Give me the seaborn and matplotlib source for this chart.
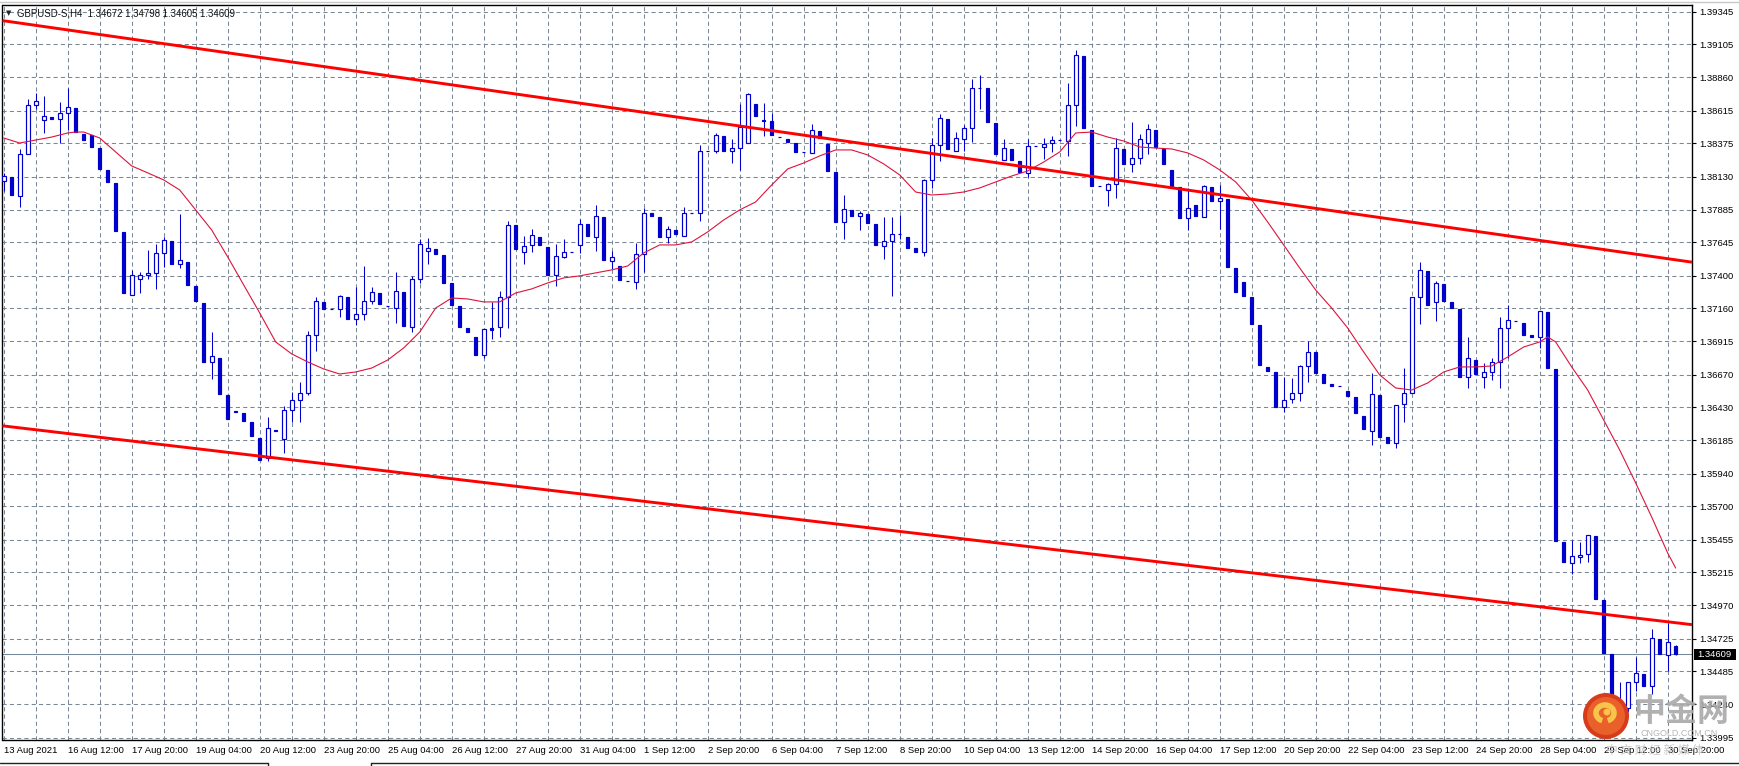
import numpy as np
import seaborn as sns
import matplotlib.pyplot as plt
from matplotlib.patches import Circle, Rectangle, Arc
from matplotlib.lines import Line2D
from matplotlib.transforms import blended_transform_factory

# GBPUSD-S H4 candles, bar 0 = 13 Aug 2021 04:00
opens = [
    1.38098, 1.38127, 1.37987, 1.38297, 1.38657, 1.38547, 1.38569, 1.38554, 1.38598, 1.38635,
    1.38443, 1.38436, 1.38340, 1.38179, 1.38083, 1.37722, 1.37257, 1.37375, 1.37405, 1.37420,
    1.37567, 1.37655, 1.37486, 1.37501, 1.37324, 1.37198, 1.36764, 1.36793, 1.36520, 1.36402,
    1.36387, 1.36321, 1.36203, 1.36056, 1.36265, 1.36196, 1.36409, 1.36483, 1.36535, 1.36963,
    1.37206, 1.37154, 1.37154, 1.37242, 1.37080, 1.37117, 1.37213, 1.37272, 1.37176, 1.37161,
    1.37279, 1.37021, 1.37375, 1.37582, 1.37597, 1.37552, 1.37346, 1.37176, 1.37014, 1.36948,
    1.36815, 1.37014, 1.37021, 1.37242, 1.37773, 1.37574, 1.37626, 1.37685, 1.37611, 1.37405,
    1.37538, 1.37574, 1.37626, 1.37781, 1.37685, 1.37832, 1.37508, 1.37471, 1.37361, 1.37353,
    1.37560, 1.37861, 1.37832, 1.37685, 1.37736, 1.37692, 1.37861, 1.37861, 1.38318, 1.38318,
    1.38429, 1.38318, 1.38340, 1.38377, 1.38665, 1.38547, 1.38539, 1.38421, 1.38407, 1.38377,
    1.38311, 1.38304, 1.38466, 1.38370, 1.38164, 1.37795, 1.37884, 1.37840, 1.37854, 1.37781,
    1.37619, 1.37655, 1.37707, 1.37685, 1.37604, 1.37574, 1.38105, 1.38363, 1.38554, 1.38318,
    1.38407, 1.38488, 1.38782, 1.38782, 1.38525, 1.38252, 1.38333, 1.38245, 1.38156, 1.38355,
    1.38348, 1.38377, 1.38399, 1.38392, 1.38657, 1.39018, 1.38473, 1.38060, 1.38031, 1.38075,
    1.38333, 1.38223, 1.38267, 1.38377, 1.38473, 1.38333, 1.38179, 1.38053, 1.37825, 1.37920,
    1.37832, 1.38053, 1.37950, 1.37965, 1.37456, 1.37353, 1.37242, 1.37036, 1.36727, 1.36690,
    1.36432, 1.36490, 1.36535, 1.36734, 1.36838, 1.36675, 1.36601, 1.36587, 1.36550, 1.36505,
    1.36365, 1.36255, 1.36520, 1.36210, 1.36166, 1.36454, 1.36535, 1.37242, 1.37434, 1.37206,
    1.37338, 1.37206, 1.37154, 1.36653, 1.36778, 1.36653, 1.36690, 1.36764, 1.37014, 1.37066,
    1.37051, 1.36963, 1.36948, 1.37132, 1.36712, 1.35437, 1.35282, 1.35326, 1.35348, 1.35481,
    1.35009, 1.34612, 1.34140, 1.34214, 1.34405, 1.34464, 1.34376, 1.34722, 1.34604, 1.34672,
]
highs = [
    1.38157, 1.38127, 1.38333, 1.38701, 1.38746, 1.38723, 1.38569, 1.38679, 1.38782, 1.38635,
    1.38443, 1.38436, 1.38340, 1.38179, 1.38083, 1.37722, 1.37442, 1.37427, 1.37589, 1.37633,
    1.37685, 1.37655, 1.37854, 1.37501, 1.37324, 1.37198, 1.36984, 1.36793, 1.36520, 1.36402,
    1.36387, 1.36321, 1.36203, 1.36358, 1.36265, 1.36439, 1.36542, 1.36616, 1.36992, 1.37242,
    1.37206, 1.37154, 1.37257, 1.37242, 1.37316, 1.37471, 1.37316, 1.37272, 1.37176, 1.37427,
    1.37279, 1.37398, 1.37670, 1.37677, 1.37597, 1.37552, 1.37346, 1.37176, 1.37014, 1.36948,
    1.37007, 1.37206, 1.37286, 1.37803, 1.37773, 1.37692, 1.37744, 1.37685, 1.37611, 1.37633,
    1.37670, 1.37574, 1.37818, 1.37781, 1.37920, 1.37832, 1.37582, 1.37471, 1.37361, 1.37640,
    1.37898, 1.37861, 1.37832, 1.37766, 1.37736, 1.37905, 1.37861, 1.38363, 1.38318, 1.38451,
    1.38429, 1.38407, 1.38665, 1.38746, 1.38665, 1.38672, 1.38598, 1.38421, 1.38407, 1.38377,
    1.38311, 1.38517, 1.38466, 1.38370, 1.38164, 1.37994, 1.37884, 1.37876, 1.37854, 1.37781,
    1.37832, 1.37832, 1.37847, 1.37685, 1.37604, 1.38112, 1.38414, 1.38591, 1.38554, 1.38458,
    1.38510, 1.38849, 1.38878, 1.38782, 1.38525, 1.38407, 1.38333, 1.38245, 1.38407, 1.38355,
    1.38414, 1.38429, 1.38399, 1.38819, 1.39063, 1.39018, 1.38473, 1.38060, 1.38083, 1.38414,
    1.38333, 1.38532, 1.38444, 1.38517, 1.38473, 1.38333, 1.38179, 1.38053, 1.38046, 1.37920,
    1.38068, 1.38053, 1.38068, 1.37965, 1.37456, 1.37353, 1.37242, 1.37036, 1.36727, 1.36690,
    1.36653, 1.36646, 1.36742, 1.36918, 1.36838, 1.36675, 1.36601, 1.36587, 1.36550, 1.36505,
    1.36365, 1.36682, 1.36520, 1.36210, 1.36446, 1.36719, 1.37242, 1.37501, 1.37434, 1.37361,
    1.37338, 1.37206, 1.37154, 1.36948, 1.36778, 1.36756, 1.36793, 1.37095, 1.37184, 1.37066,
    1.37051, 1.36963, 1.37139, 1.37132, 1.36712, 1.35437, 1.35451, 1.35437, 1.35488, 1.35481,
    1.35009, 1.34612, 1.34405, 1.34405, 1.34589, 1.34464, 1.34796, 1.34722, 1.34840, 1.34680,
]
lows = [
    1.38024, 1.37994, 1.37905, 1.38297, 1.38628, 1.38451, 1.38554, 1.38377, 1.38473, 1.38458,
    1.38399, 1.38348, 1.38186, 1.38090, 1.37729, 1.37272, 1.37257, 1.37272, 1.37375, 1.37302,
    1.37464, 1.37486, 1.37456, 1.37331, 1.37213, 1.36764, 1.36638, 1.36527, 1.36343, 1.36395,
    1.36328, 1.36218, 1.36041, 1.36034, 1.36258, 1.36093, 1.36321, 1.36321, 1.36520, 1.36845,
    1.37154, 1.37154, 1.37095, 1.37080, 1.37036, 1.37073, 1.37191, 1.37191, 1.37176, 1.37051,
    1.37029, 1.36984, 1.37346, 1.37486, 1.37560, 1.37346, 1.37184, 1.37021, 1.36984, 1.36815,
    1.36793, 1.36933, 1.36948, 1.37014, 1.37597, 1.37486, 1.37574, 1.37626, 1.37405, 1.37324,
    1.37530, 1.37574, 1.37567, 1.37692, 1.37582, 1.37515, 1.37449, 1.37368, 1.37361, 1.37302,
    1.37427, 1.37840, 1.37685, 1.37640, 1.37707, 1.37692, 1.37861, 1.37803, 1.38318, 1.38304,
    1.38318, 1.38230, 1.38179, 1.38377, 1.38576, 1.38429, 1.38436, 1.38421, 1.38385, 1.38311,
    1.38311, 1.38304, 1.38414, 1.38171, 1.37795, 1.37670, 1.37840, 1.37736, 1.37788, 1.37626,
    1.37523, 1.37250, 1.37670, 1.37604, 1.37574, 1.37545, 1.38046, 1.38245, 1.38333, 1.38318,
    1.38318, 1.38385, 1.38628, 1.38532, 1.38297, 1.38252, 1.38252, 1.38164, 1.38127, 1.38355,
    1.38259, 1.38311, 1.38399, 1.38282, 1.38502, 1.38488, 1.38060, 1.38060, 1.37913, 1.37972,
    1.38223, 1.38164, 1.38223, 1.38297, 1.38348, 1.38223, 1.38060, 1.37825, 1.37736, 1.37840,
    1.37832, 1.37950, 1.37744, 1.37464, 1.37279, 1.37250, 1.37044, 1.36742, 1.36697, 1.36432,
    1.36395, 1.36461, 1.36476, 1.36616, 1.36683, 1.36609, 1.36587, 1.36587, 1.36513, 1.36387,
    1.36270, 1.36152, 1.36210, 1.36166, 1.36130, 1.36321, 1.36535, 1.37044, 1.37184, 1.37066,
    1.37213, 1.37161, 1.36653, 1.36572, 1.36675, 1.36572, 1.36631, 1.36572, 1.36793, 1.37066,
    1.36963, 1.36948, 1.36867, 1.36719, 1.35444, 1.35290, 1.35201, 1.35282, 1.35290, 1.35017,
    1.34619, 1.34111, 1.34096, 1.34184, 1.34339, 1.34376, 1.34317, 1.34612, 1.34486, 1.34605,
]
closes = [
    1.38134, 1.37994, 1.38297, 1.38657, 1.38687, 1.38576, 1.38554, 1.38598, 1.38642, 1.38458,
    1.38399, 1.38348, 1.38186, 1.38090, 1.37729, 1.37272, 1.37405, 1.37405, 1.37420, 1.37567,
    1.37663, 1.37486, 1.37515, 1.37331, 1.37213, 1.36764, 1.36808, 1.36527, 1.36343, 1.36395,
    1.36328, 1.36218, 1.36041, 1.36277, 1.36258, 1.36409, 1.36483, 1.36535, 1.36963, 1.37213,
    1.37154, 1.37154, 1.37250, 1.37080, 1.37117, 1.37213, 1.37279, 1.37191, 1.37176, 1.37286,
    1.37029, 1.37375, 1.37633, 1.37604, 1.37560, 1.37346, 1.37184, 1.37021, 1.36984, 1.36815,
    1.37007, 1.36999, 1.37242, 1.37773, 1.37597, 1.37619, 1.37700, 1.37626, 1.37405, 1.37545,
    1.37574, 1.37574, 1.37781, 1.37692, 1.37840, 1.37515, 1.37538, 1.37368, 1.37361, 1.37560,
    1.37861, 1.37840, 1.37685, 1.37744, 1.37707, 1.37861, 1.37861, 1.38318, 1.38318, 1.38436,
    1.38318, 1.38340, 1.38495, 1.38738, 1.38576, 1.38539, 1.38436, 1.38421, 1.38385, 1.38311,
    1.38311, 1.38473, 1.38414, 1.38171, 1.37795, 1.37891, 1.37840, 1.37861, 1.37788, 1.37626,
    1.37655, 1.37707, 1.37707, 1.37604, 1.37574, 1.38105, 1.38363, 1.38561, 1.38333, 1.38414,
    1.38488, 1.38782, 1.38782, 1.38532, 1.38297, 1.38340, 1.38252, 1.38164, 1.38355, 1.38355,
    1.38370, 1.38399, 1.38399, 1.38657, 1.39026, 1.38488, 1.38060, 1.38060, 1.38075, 1.38340,
    1.38223, 1.38267, 1.38407, 1.38480, 1.38348, 1.38223, 1.38060, 1.37825, 1.37898, 1.37840,
    1.38060, 1.37950, 1.37972, 1.37464, 1.37279, 1.37250, 1.37044, 1.36742, 1.36697, 1.36432,
    1.36483, 1.36535, 1.36734, 1.36838, 1.36683, 1.36609, 1.36587, 1.36587, 1.36513, 1.36387,
    1.36270, 1.36527, 1.36210, 1.36166, 1.36446, 1.36535, 1.37242, 1.37442, 1.37184, 1.37346,
    1.37213, 1.37161, 1.36653, 1.36793, 1.36675, 1.36690, 1.36764, 1.37014, 1.37073, 1.37066,
    1.36963, 1.36948, 1.37139, 1.36719, 1.35444, 1.35290, 1.35334, 1.35341, 1.35488, 1.35017,
    1.34619, 1.34140, 1.34184, 1.34405, 1.34472, 1.34376, 1.34729, 1.34612, 1.34700, 1.34609,
]

# moving average line (crimson), read at selected bars
ma_bars = [0, 2, 4, 6, 8, 9, 10, 12, 14, 16, 18, 20, 22, 24, 26, 28, 30, 32, 34, 36,
           38, 40, 42, 44, 46, 48, 50, 52, 54, 56, 58, 60, 62, 64, 66, 68, 70, 72, 74, 76,
           78, 80, 82, 84, 86, 88, 90, 92, 94, 96, 98, 100, 102, 104, 106, 108, 110, 112, 114, 116,
           118, 120, 122, 124, 126, 128, 130, 132, 134, 136, 138, 140, 142, 144, 146, 148, 150, 152, 154, 156,
           158, 160, 162, 164, 166, 168, 170, 172, 174, 176, 178, 180, 182, 184, 186, 188, 190, 192, 193, 194,
           196, 198, 200, 202, 204, 206, 208, 209]
ma_vals = [1.38414, 1.38377, 1.38399, 1.38421, 1.38451, 1.38458, 1.38458, 1.38414, 1.38311, 1.38208,
           1.38157, 1.38105, 1.38031, 1.37884, 1.37736, 1.37538, 1.37331, 1.37125, 1.36911, 1.36823,
           1.36764, 1.36712, 1.36675, 1.36690, 1.36719, 1.36778, 1.36867, 1.36984, 1.37161, 1.37235,
           1.37228, 1.37206, 1.37206, 1.37272, 1.37302, 1.37346, 1.37383, 1.37398, 1.37420, 1.37442,
           1.37471, 1.37567, 1.37626, 1.37626, 1.37648, 1.37722, 1.37810, 1.37884, 1.37943, 1.38068,
           1.38186, 1.38230, 1.38282, 1.38326, 1.38326, 1.38289, 1.38223, 1.38142, 1.38016, 1.37994,
           1.38001, 1.38016, 1.38046, 1.38090, 1.38134, 1.38171, 1.38237, 1.38311, 1.38451, 1.38458,
           1.38421, 1.38392, 1.38348, 1.38340, 1.38333, 1.38304, 1.38252, 1.38179, 1.38090, 1.37957,
           1.37795, 1.37626, 1.37456, 1.37294, 1.37161, 1.37014, 1.36837, 1.36668, 1.36572, 1.36557,
           1.36609, 1.36690, 1.36727, 1.36727, 1.36734, 1.36800, 1.36874, 1.36911, 1.36948, 1.36911,
           1.36727, 1.36557, 1.36336, 1.36115, 1.35872, 1.35621, 1.35356, 1.35245]

# two red trend lines, end points (bar position, price)
trend_x = [-0.15, 211.04]
upper_line = [1.39279, 1.37499]
lower_line = [1.36293, 1.34828]

date_labels = ["13 Aug 2021", "16 Aug 12:00", "17 Aug 20:00", "19 Aug 04:00", "20 Aug 12:00",
               "23 Aug 20:00", "25 Aug 04:00", "26 Aug 12:00", "27 Aug 20:00", "31 Aug 04:00",
               "1 Sep 12:00", "2 Sep 20:00", "6 Sep 04:00", "7 Sep 12:00", "8 Sep 20:00",
               "10 Sep 04:00", "13 Sep 12:00", "14 Sep 20:00", "16 Sep 04:00", "17 Sep 12:00",
               "20 Sep 20:00", "22 Sep 04:00", "23 Sep 12:00", "24 Sep 20:00", "28 Sep 04:00",
               "29 Sep 12:00", "30 Sep 20:00"]
price_labels = ["1.39345", "1.39105", "1.38860", "1.38615", "1.38375", "1.38130", "1.37885",
                "1.37645", "1.37400", "1.37160", "1.36915", "1.36670", "1.36430", "1.36185",
                "1.35940", "1.35700", "1.35455", "1.35215", "1.34970", "1.34725", "1.34485",
                "1.34240", "1.33995"]
last_price = 1.34609
header = "GBPUSD-S,H4  1.34672 1.34798 1.34605 1.34609"

sns.set_style("white")
plt.rcParams['font.family'] = ['Liberation Sans', 'DejaVu Sans']

BLUE = '#0000cd'
W, H = 1740, 766
fig = plt.figure(figsize=(W / 100, H / 100), dpi=100)
ax = fig.add_axes([2.5 / W, 1 - 740 / H, (1692 - 2.5) / W, (740 - 5) / H])

x = np.arange(len(opens))
o, h, l, c = (np.array(v) for v in (opens, highs, lows, closes))
up = c > o

ax.vlines(x, l, h, color=BLUE, lw=0.75, zorder=3)
ax.bar(x[up], (c - o)[up], bottom=o[up], width=0.48, facecolor='white',
       edgecolor=BLUE, lw=0.85, zorder=4)
ax.bar(x[~up], (c - o)[~up], bottom=o[~up], width=0.3, facecolor=BLUE,
       edgecolor=BLUE, lw=0.85, zorder=4)

sns.lineplot(x=ma_bars, y=ma_vals, ax=ax, color='#dc143c', lw=0.8, zorder=5)
ax.plot(trend_x, upper_line, color='#ff0000', lw=2.1, zorder=6, solid_capstyle='butt')
ax.plot(trend_x, lower_line, color='#ff0000', lw=2.1, zorder=6, solid_capstyle='butt')

ax.axhline(last_price, color='#778899', lw=0.75, zorder=2)

ax.set_xlim(-0.15, 211.04)
ax.set_ylim(1.33978, 1.39394)

ax.set_xticks(np.arange(0, 8 * len(date_labels), 8))
ax.set_xticklabels(date_labels, ha='left')
ax.set_xticks(np.arange(4, 212, 8), minor=True)
ax.set_yticks([float(p) for p in price_labels])
ax.set_yticklabels(price_labels)
ax.yaxis.tick_right()

grid_kw = dict(color='#7a8896', lw=0.75, ls=(0, (4, 3)))
ax.grid(True, which='both', axis='x', **grid_kw)
ax.grid(True, which='major', axis='y', **grid_kw)
ax.set_axisbelow(True)
ax.tick_params(axis='x', which='major', length=3, width=0.8, pad=1.5, labelsize=6.8, colors='black')
ax.tick_params(axis='x', which='minor', length=0)
ax.tick_params(axis='y', length=3, width=0.8, pad=2.0, labelsize=6.8, colors='black')
for s in ax.spines.values():
    s.set_color('black')
    s.set_linewidth(1.0)
ax.set_xlabel('')
ax.set_ylabel('')

# current price tag on the price scale
bt = blended_transform_factory(ax.transAxes, ax.transData)
ax.add_patch(Rectangle((1 + 1.5 / 1689.5, last_price - 0.0004), 42 / 1689.5, 0.0008,
                       transform=bt, facecolor='black', edgecolor='none', clip_on=False, zorder=10))
ax.text(1 + 5.5 / 1689.5, last_price, f"{last_price:.5f}", transform=bt, color='white',
        fontsize=6.8, va='center', ha='left', clip_on=False, zorder=11)

# header
fig.text(6 / W, 1 - 13.5 / H, "\u25bc", fontsize=5, family=['DejaVu Sans'], va='center')
fig.text(17 / W, 1 - 13.3 / H, header, fontsize=6.9, va='center', color='#111111')

# window frame: thin line at top, bottom tabs
fig.add_artist(Line2D([0, 1], [1 - 1.5 / H, 1 - 1.5 / H], color='#c8c8c8', lw=1))
for x0, x1 in [(0, 268), (371, W)]:
    fig.add_artist(Line2D([x0 / W, x1 / W], [3.5 / H, 3.5 / H], color='#222222', lw=1))
for xv in (268, 371):
    fig.add_artist(Line2D([xv / W, xv / W], [0, 3.5 / H], color='#222222', lw=1))

# watermark logo
wm = fig.add_axes([1578 / W, 0, 162 / W, 80 / H])
wm.set_xlim(0, 162)
wm.set_ylim(0, 80)
wm.axis('off')
wm.add_patch(Circle((28, 50), 23, facecolor='#d63c1c', edgecolor='none'))
wm.add_patch(Circle((28, 50), 19, facecolor='#e9602a', edgecolor='none'))
wm.add_patch(Arc((27, 53), 18, 16, theta1=-70, theta2=250, lw=4, color='#f8c44a'))
wm.add_patch(Circle((29, 54), 3.5, facecolor='#f8c44a', edgecolor='none'))
wm.text(103, 54, "中金网", family=['Noto Sans CJK SC'], fontsize=23, fontweight='bold',
        color='#a9a9a9', alpha=0.9, ha='center', va='center')
wm.text(101, 33, "CNGOLD.COM.CN", fontsize=6.5, color='#b5b5b5', ha='center', va='center')
wm.text(77, 16, "中 文 财 经 新 媒 体", family=['Noto Sans CJK SC'], fontsize=8.5,
        color='#c4c4c4', alpha=0.9, ha='center', va='center')

fig.savefig('out.png', dpi=100)
